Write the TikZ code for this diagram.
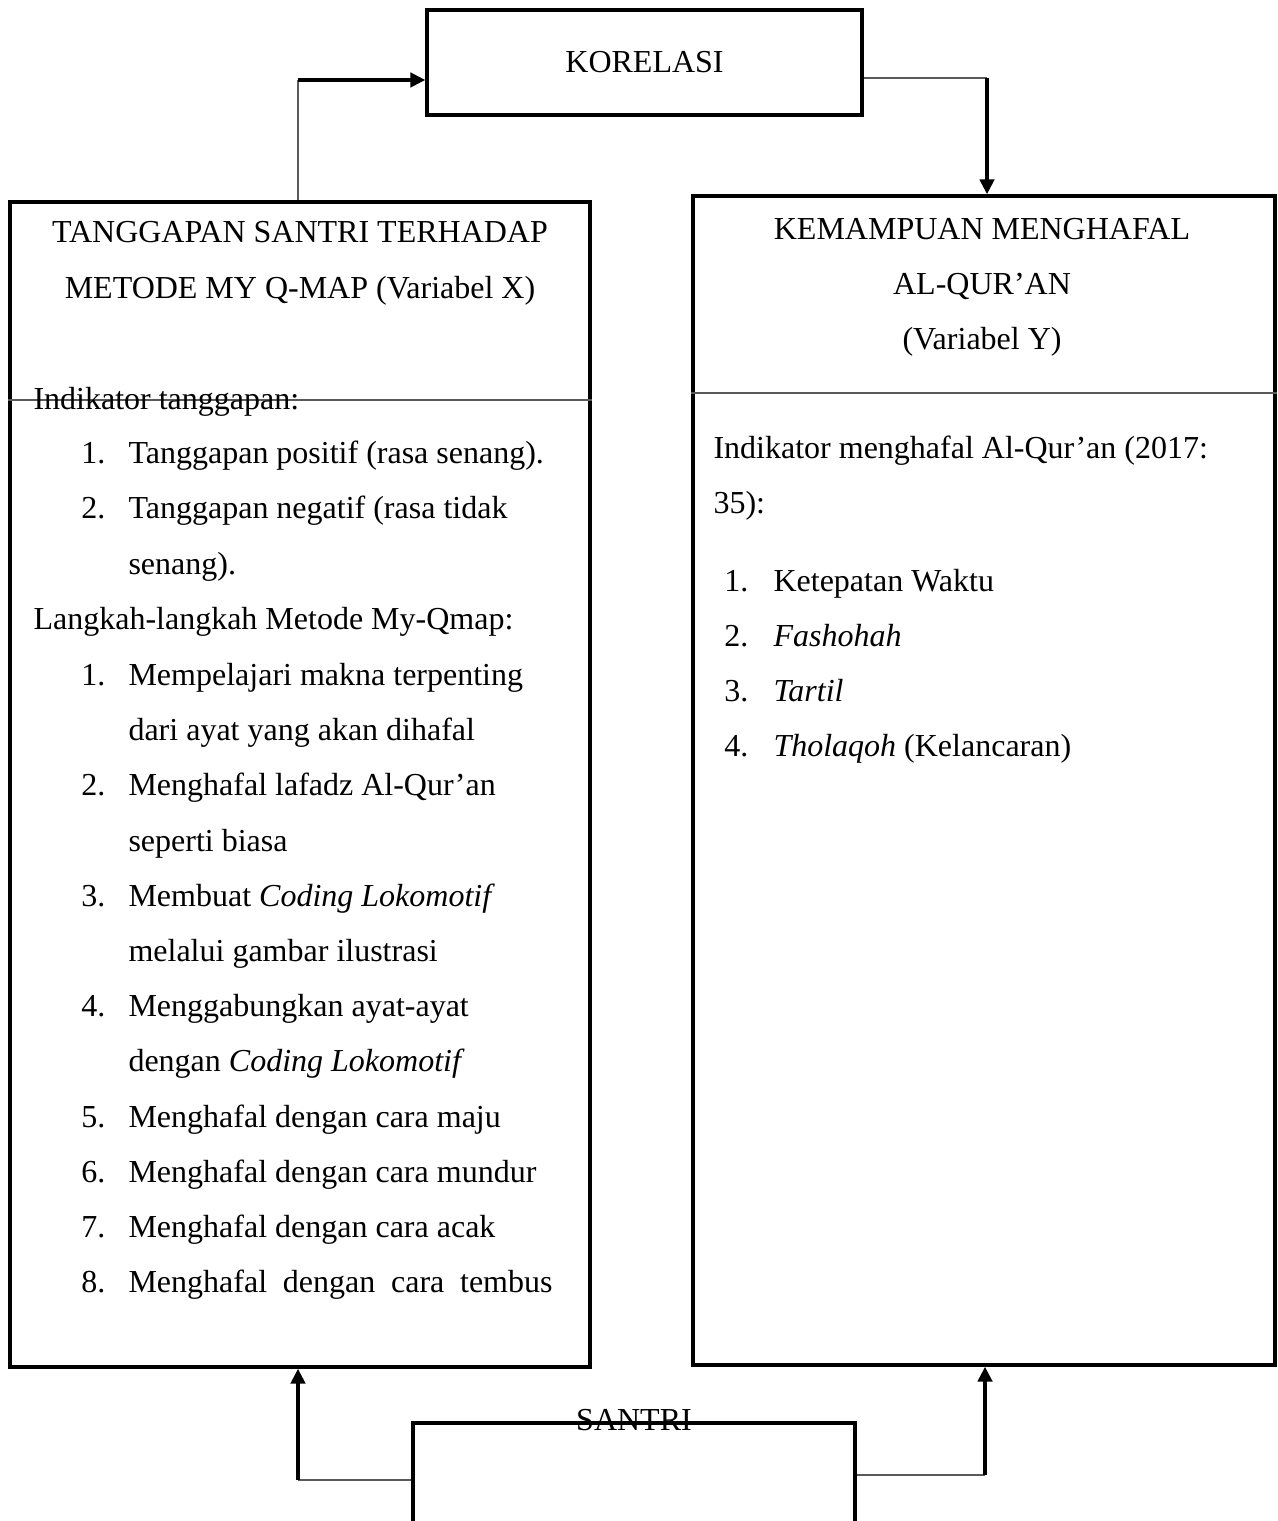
\documentclass[tikz,border=0pt]{standalone}
\usepackage{fontspec}
\setmainfont{Liberation Serif}
\usetikzlibrary{arrows.meta}
\newcommand\pxu{0.375pt}

\tikzset{
	box/.style={draw, line width=1.3pt, inner sep=0pt, font=\fontsize{12}{20}\selectfont},
	thinline/.style={draw=black!65, line width=0.6pt},
	arrline/.style={line width=1.3pt, -{Triangle[length=5.6pt,width=5.4pt]}},
	txt/.style={inner sep=0pt, font=\fontsize{12}{20}\selectfont},
}

\begin{document}
\begin{tikzpicture}[x=\pxu, y=-\pxu]
	\useasboundingbox (0,0) rectangle (1277,1521);
	
	\node[box, minimum width=435*\pxu, minimum height=105*\pxu] (korelasi) at (644.5,62.5) {KORELASI};
	\node[box, minimum width=580*\pxu, minimum height=1165*\pxu] (xbox) at (300,784.5) {};
	\node[box, minimum width=582*\pxu, minimum height=1169*\pxu] (ybox) at (984,780.5) {};
	\node[box, minimum width=442*\pxu, minimum height=137*\pxu] (santri) at (634,1491.5) {};
	\node[txt] (santrilbl) at ([yshift=0.6pt]santri.north) {SANTRI};
	
	\coordinate (sepx) at (300,400);
	\coordinate (sepy) at (984,393);
	\draw[thinline] (xbox.west |- sepx) -- (xbox.east |- sepx);
	\draw[thinline] (ybox.west |- sepy) -- (ybox.east |- sepy);
	
	\coordinate (kx) at (298,80);
	\coordinate (ky) at (987,78);
	\coordinate (sx) at (298,1480);
	\coordinate (sy) at (985,1475);
	\draw[thinline] (xbox.north -| kx) -- (kx);
	\draw[arrline] (kx) -- (korelasi.west |- kx);
	\draw[thinline] (korelasi.east |- ky) -- (ky);
	\draw[arrline] (ky) -- (ybox.north -| ky);
	\draw[thinline] (santri.west |- sx) -- (sx);
	\draw[arrline] (sx) -- (xbox.south -| sx);
	\draw[thinline] (santri.east |- sy) -- (sy);
	\draw[arrline] (sy) -- (ybox.south -| sy);
	
	\node[txt, anchor=base] (xt1) at (300,243) {TANGGAPAN SANTRI TERHADAP};
	\node[txt, anchor=base] (xt2) at (300,299) {METODE MY Q-MAP (Variabel X)};
	\node[txt, anchor=base west] (xh1) at (33,410) {Indikator tanggapan:};
	\node[txt, anchor=base west] (xh2) at (33,629) {Langkah-langkah Metode My-Qmap:};
	\foreach \yy/\nr/\tx [count=\i] in {
		464/1./{Tanggapan positif (rasa senang).},
		519/2./{Tanggapan negatif (rasa tidak},
		574//{senang).},
		685/1./{Mempelajari makna terpenting},
		740//{dari ayat yang akan dihafal},
		795/2./{Menghafal lafadz Al-Qur’an},
		851//{seperti biasa},
		906/3./{Membuat \textit{Coding Lokomotif}},
		961//{melalui gambar ilustrasi},
		1016/4./{Menggabungkan ayat-ayat},
		1071//{dengan \textit{Coding Lokomotif}},
		1127/5./{Menghafal dengan cara maju},
		1182/6./{Menghafal dengan cara mundur},
		1237/7./{Menghafal dengan cara acak},
		1292/8./{\makebox[159pt][s]{Menghafal dengan cara tembus}}}{
		\node[txt, anchor=base east] (xn\i) at (106,\yy) {\nr};
		\node[txt, anchor=base west] (xl\i) at (128,\yy) {\tx};
	}
	
	\node[txt, anchor=base] (yt1) at (982,240) {KEMAMPUAN MENGHAFAL};
	\node[txt, anchor=base] (yt2) at (982,295) {AL-QUR’AN};
	\node[txt, anchor=base] (yt3) at (982,350) {(Variabel Y)};
	\node[txt, anchor=base west] (yh1) at (713,459) {Indikator menghafal Al-Qur’an (2017:};
	\node[txt, anchor=base west] (yh2) at (713,514) {35):};
	\foreach \yy/\nr/\tx [count=\i] in {
		591/1./{Ketepatan Waktu},
		646/2./{\textit{Fashohah}},
		701/3./{\textit{Tartil}},
		756/4./{\textit{Tholaqoh} (Kelancaran)}}{
		\node[txt, anchor=base east] (yn\i) at (749,\yy) {\nr};
		\node[txt, anchor=base west] (yl\i) at (773,\yy) {\tx};
	}
	
\end{tikzpicture}
\end{document}
